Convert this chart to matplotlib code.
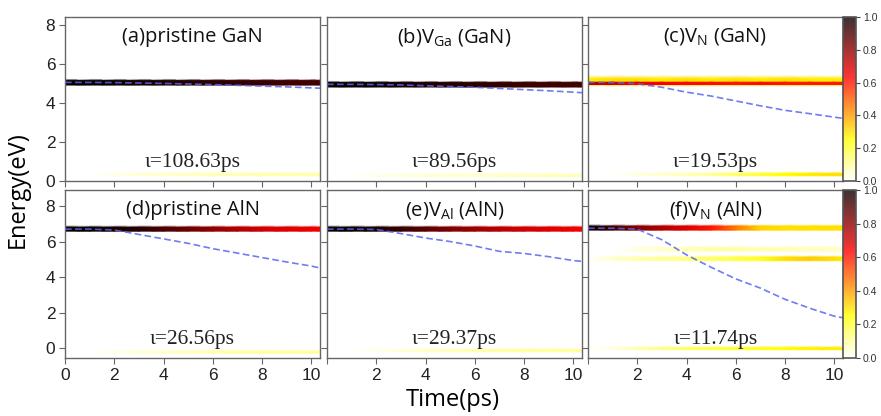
import numpy as np
import matplotlib
matplotlib.use('Agg')
import matplotlib.pyplot as plt
from matplotlib.cm import ScalarMappable
from matplotlib.colors import Normalize

plt.rcParams['font.family'] = ['Liberation Sans', 'DejaVu Sans']
plt.rcParams['mathtext.fontset'] = 'custom'
plt.rcParams['mathtext.rm'] = 'Open Sans'
plt.rcParams['mathtext.it'] = 'Open Sans:italic'

# ==========================
#      Data (read off)
# ==========================
titles = ['(a)pristine GaN', r'(b)V$\mathrm{_{Ga}}$ (GaN)', r'(c)V$\mathrm{_{N}}$ (GaN)',
          '(d)pristine AlN', r'(e)V$\mathrm{_{Al}}$ (AlN)', r'(f)V$\mathrm{_{N}}$ (AlN)']
tau_labels = ['ι=108.63ps', 'ι=89.56ps', 'ι=19.53ps',
              'ι=26.56ps', 'ι=29.37ps', 'ι=11.74ps']

t = [0, 1, 2, 3, 4, 5, 6, 7, 8, 9, 10, 10.4]

# average energy (blue dashed)
avg_a = [5.05, 5.05, 5.04, 5.02, 5.00, 4.97, 4.94, 4.90, 4.86, 4.82, 4.77, 4.75]
avg_b = [4.95, 4.95, 4.94, 4.92, 4.88, 4.84, 4.80, 4.74, 4.68, 4.62, 4.55, 4.52]
avg_c = [5.05, 5.05, 4.98, 4.80, 4.55, 4.35, 4.10, 3.85, 3.62, 3.45, 3.27, 3.20]
avg_d = [6.70, 6.70, 6.65, 6.40, 6.15, 5.90, 5.60, 5.35, 5.10, 4.85, 4.62, 4.50]
avg_e = [6.70, 6.70, 6.68, 6.45, 6.20, 6.00, 5.75, 5.45, 5.33, 5.15, 4.93, 4.88]
avg_f = [6.75, 6.75, 6.70, 6.10, 5.25, 4.55, 3.90, 3.38, 2.75, 2.25, 1.80, 1.70]

# occupation bands: (energy, half width, soft edge, occupation vs t)
bands_a = [(5.05, 0.12, 0.05, [1.0, 1.0, 1.0, 0.98, 0.97, 0.96, 0.95, 0.94, 0.93, 0.92, 0.92, 0.92]),
           (0.35, 0.06, 0.06, [0, 0, 0.02, 0.04, 0.05, 0.06, 0.07, 0.07, 0.08, 0.08, 0.08, 0.08])]
bands_b = [(4.95, 0.12, 0.05, [1.0, 1.0, 1.0, 0.98, 0.97, 0.96, 0.95, 0.94, 0.93, 0.92, 0.92, 0.92]),
           (0.30, 0.06, 0.06, [0, 0, 0.02, 0.03, 0.04, 0.05, 0.05, 0.06, 0.06, 0.07, 0.07, 0.07])]
bands_c = [(5.12, 0.14, 0.15, [0.28, 0.30, 0.30, 0.28, 0.30, 0.28, 0.30, 0.28, 0.30, 0.28, 0.28, 0.28]),
           (5.00, 0.06, 0.0, [0.75, 0.70, 0.66, 0.64, 0.62, 0.62, 0.60, 0.62, 0.60, 0.60, 0.60, 0.60]),
           (0.35, 0.06, 0.06, [0, 0, 0.03, 0.05, 0.07, 0.10, 0.15, 0.20, 0.25, 0.28, 0.30, 0.30])]
bands_d = [(6.72, 0.12, 0.05, [1.0, 1.0, 0.98, 0.95, 0.90, 0.85, 0.80, 0.75, 0.70, 0.68, 0.66, 0.65]),
           (-0.20, 0.06, 0.06, [0, 0, 0.02, 0.04, 0.06, 0.07, 0.08, 0.09, 0.10, 0.10, 0.10, 0.10])]
bands_e = [(6.72, 0.12, 0.05, [1.0, 1.0, 0.97, 0.93, 0.88, 0.82, 0.78, 0.74, 0.70, 0.68, 0.66, 0.65]),
           (-0.12, 0.06, 0.06, [0, 0, 0.02, 0.04, 0.06, 0.07, 0.08, 0.09, 0.10, 0.10, 0.10, 0.10])]
bands_f = [(6.78, 0.12, 0.05, [1.0, 0.92, 0.82, 0.75, 0.68, 0.60, 0.45, 0.32, 0.30, 0.30, 0.30, 0.30]),
           (5.58, 0.10, 0.08, [0, 0, 0.03, 0.05, 0.07, 0.08, 0.08, 0.07, 0.07, 0.06, 0.06, 0.05]),
           (5.05, 0.10, 0.06, [0, 0.05, 0.08, 0.10, 0.12, 0.15, 0.18, 0.22, 0.30, 0.33, 0.30, 0.28]),
           (0.00, 0.06, 0.06, [0, 0.03, 0.08, 0.12, 0.15, 0.18, 0.20, 0.22, 0.25, 0.27, 0.28, 0.28])]

avgs = [avg_a, avg_b, avg_c, avg_d, avg_e, avg_f]
bands = [bands_a, bands_b, bands_c, bands_d, bands_e, bands_f]

# ==========================
#        Plotting
# ==========================
W, H = 881, 416
fig = plt.figure(figsize=(W / 100, H / 100), dpi=100)

def px(x0, y0, x1, y1):
    return [x0 / W, 1 - y1 / H, (x1 - x0) / W, (y1 - y0) / H]

cols = [(65, 320), (327, 582), (588, 843)]
rows = [(17, 181), (190, 358)]
ylims = [(0, 8.4), (-0.55, 8.9)]
cmap = plt.get_cmap('hot_r')
tt = np.array(t)

n = -1
for r in range(2):
    for c in range(3):
        n += 1
        ax = fig.add_axes(px(cols[c][0], rows[r][0], cols[c][1], rows[r][1]))
        for E, w, s, occ in bands[n]:
            occ = np.array(occ)
            if s > 0:
                ys = [E - w - s, E - w, E + w, E + w + s]
                cs = [0 * occ, occ, occ, 0 * occ]
            else:
                ys = [E - w, E + w]
                cs = [occ, occ]
            X = np.array([tt for _ in ys])
            Y = np.array([np.full_like(tt, y) for y in ys])
            ax.pcolormesh(X, Y, np.array(cs), cmap=cmap, vmin=0, vmax=1,
                          shading='gouraud', zorder=1)
        ax.plot(t, avgs[n], color='#5566ee', lw=1.2, ls=(0, (4, 2)), alpha=0.85, zorder=3)

        ax.set_xlim(0, 10.35)
        ax.set_ylim(*ylims[r])
        ax.set_xticks([0, 2, 4, 6, 8, 10])
        ax.set_yticks([0, 2, 4, 6, 8])
        ax.tick_params(direction='out', length=4, width=0.8, color='#666666',
                       labelsize=12.5, labelcolor='#222222', pad=3)
        for sp in ax.spines.values():
            sp.set_color('#666666')
            sp.set_linewidth(1.0)
        if r == 0:
            ax.set_xticklabels([])
        elif c > 0:
            ax.set_xticklabels(['', '2', '4', '6', '8', '10'])
        if c > 0:
            ax.set_yticklabels([])

        ax.text(0.5, 0.88, titles[n], transform=ax.transAxes, ha='center', va='center',
                fontsize=14.5, family='Open Sans', color='#111111')
        ax.text(0.5, 0.11, tau_labels[n], transform=ax.transAxes, ha='center', va='center',
                fontsize=15.5, family='Liberation Serif', color='#222222')

    # colorbar for each row
    cax = fig.add_axes(px(843, rows[r][0], 856, rows[r][1]))
    sm = ScalarMappable(norm=Normalize(0, 1), cmap=cmap)
    cb = fig.colorbar(sm, cax=cax, alpha=0.8)
    cb.set_ticks([0, 0.2, 0.4, 0.6, 0.8, 1.0])
    cb.ax.tick_params(labelsize=7.5, length=3, color='#444444', labelcolor='#333333', pad=2)
    cb.outline.set_edgecolor('#555555')
    cb.outline.set_linewidth(1.2)

fig.text(18 / W, 1 - 190 / H, 'Energy(eV)', rotation=90, ha='center', va='center',
         fontsize=17, family='Open Sans')
fig.text(453 / W, 1 - 400 / H, 'Time(ps)', ha='center', va='center',
         fontsize=17, family='Open Sans')

fig.savefig('out.png', dpi=100)
